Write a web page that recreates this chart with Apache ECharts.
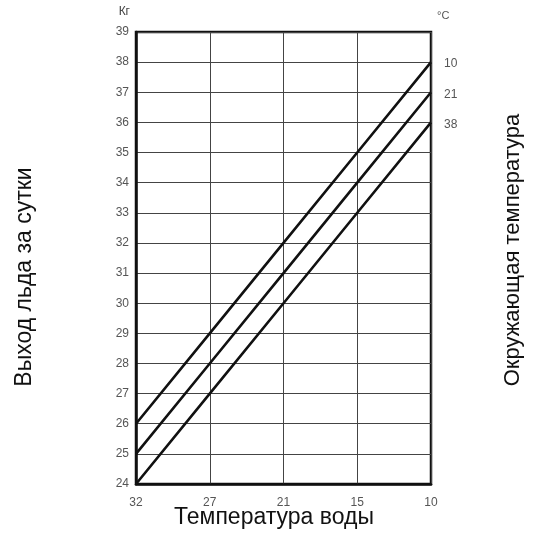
<!DOCTYPE html>
<html><head><meta charset="utf-8">
<script src="https://cdn.jsdelivr.net/npm/echarts@6/dist/echarts.min.js"></script>
<style>html,body{margin:0;padding:0;background:#fff}#c{width:534px;height:536px}</style>
</head><body><div id="c"></div>
<script>
const waterTemps = ['32', '27', '21', '15', '10'];
const ambient10 = [26, 29, 32, 35, 38];
const ambient21 = [25, 28, 31, 34, 37];
const ambient38 = [24, 27, 30, 33, 36];
const seriesNames = ['10', '21', '38'];
const yMin = 24, yMax = 39;

const chart = echarts.init(document.getElementById('c'));
const F = 'Liberation Sans, Arial, sans-serif';
function mk(name, data) {
  return {
    name: name, type: 'line', data: data, symbol: 'none', silent: true,
    lineStyle: { color: '#111', width: 2.6 },
    endLabel: { show: true, formatter: '{a}', color: '#555', fontSize: 12, fontFamily: F, offset: [5, 2] }
  };
}
chart.setOption({
  animation: false,
  grid: { left: 136, right: 103, top: 32, bottom: 52, show: true, borderColor: '#111', borderWidth: 2.5 },
  xAxis: {
    type: 'category', data: waterTemps, boundaryGap: false,
    axisLine: { show: true, lineStyle: { color: '#111', width: 2.5 } },
    axisTick: { show: false },
    axisLabel: { color: '#555', fontSize: 12, fontFamily: F, margin: 13 },
    splitLine: { show: true, lineStyle: { color: '#444', width: 1 } }
  },
  yAxis: {
    type: 'value', min: yMin, max: yMax, interval: 1,
    name: 'Кг', nameLocation: 'end', nameGap: 14,
    nameTextStyle: { color: '#444', fontSize: 12, fontFamily: F, align: 'right', padding: [0, 6, 0, 0] },
    axisLine: { show: true, lineStyle: { color: '#111', width: 2.5 } },
    axisTick: { show: false },
    axisLabel: { color: '#555', fontSize: 12, fontFamily: F, margin: 7 },
    splitLine: { show: true, lineStyle: { color: '#444', width: 1 } }
  },
  series: [mk(seriesNames[0], ambient10), mk(seriesNames[1], ambient21), mk(seriesNames[2], ambient38)],
  graphic: [
    { type: 'text', left: 437, top: 10, style: { text: '°C', fill: '#555', font: '11px ' + F } },
    { type: 'text', x: 274, y: 518, style: { text: 'Температура воды', fill: '#111', font: '23px ' + F, align: 'center', verticalAlign: 'middle' } },
    { type: 'text', x: 25, y: 277, rotation: Math.PI / 2, style: { text: 'Выход льда за сутки', fill: '#111', font: '23px ' + F, align: 'center', verticalAlign: 'middle' } },
    { type: 'text', x: 513, y: 250, rotation: Math.PI / 2, style: { text: 'Окружающая температура', fill: '#111', font: '22px ' + F, align: 'center', verticalAlign: 'middle' } }
  ]
});
</script></body></html>
